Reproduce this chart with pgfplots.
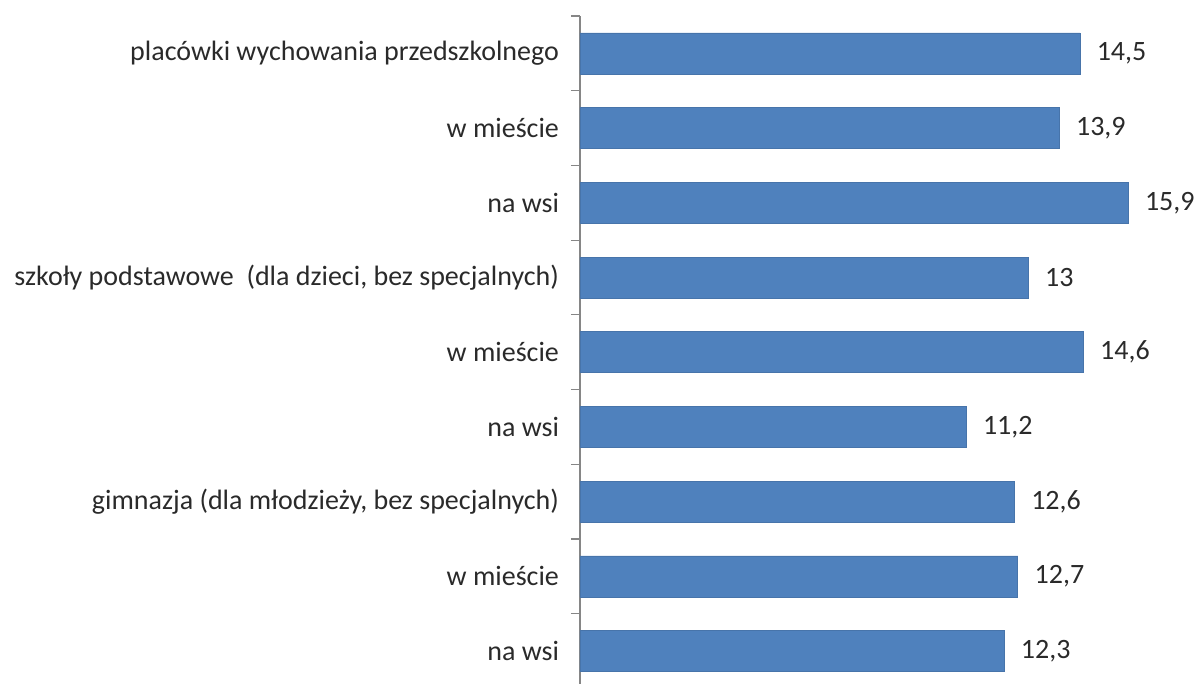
\documentclass[border=0pt]{standalone}
\usepackage{pgfplots}
\pgfplotsset{compat=1.18}
\usepackage{fontspec}
\setmainfont{Carlito}
\definecolor{barblue}{HTML}{4F81BD}
\definecolor{txt}{HTML}{2A2A2A}
\definecolor{axgray}{HTML}{868686}
\begin{document}
\begin{tikzpicture}[x=1pt,y=1pt]
\useasboundingbox (-290pt,0pt) rectangle (308.5pt,342pt);
\begin{axis}[
  name=ax, at={(0,0)}, anchor=south west,
  scale only axis,
  width=308.5pt, height=334pt,
  xbar, bar width=20.5pt,
  xmin=0, xmax=17.9,
  ymin=-0.5, ymax=8.44,
  y dir=reverse,
  hide x axis,
  axis y line*=left,
  y axis line style={draw=axgray, line width=0.6pt},
  ytick={0,...,8},
  yticklabels={placówki wychowania przedszkolnego, w mieście, na wsi, szkoły podstawowe\ \ (dla dzieci{,} bez specjalnych), w mieście, na wsi, gimnazja (dla młodzieży{,} bez specjalnych), w mieście, na wsi},
  major tick length=0pt,
  minor ytick={-0.5,0.5,...,7.5},
  minor tick length=4.5pt,
  tick align=outside,
  minor tick style={draw=axgray, line width=0.6pt},
  yticklabel style={font=\fontsize{14}{16}\selectfont, text=txt, anchor=east, xshift=-7pt},
  point meta=explicit symbolic,
  nodes near coords,
  nodes near coords style={font=\fontsize{14}{16}\selectfont, text=txt, anchor=west, xshift=5pt},
  clip=false,
]
\addplot[fill=barblue, draw=barblue!90!black, line width=0.3pt] coordinates {
  (14.5,0) [14,5]
  (13.9,1) [13,9]
  (15.9,2) [15,9]
  (13,3) [13]
  (14.6,4) [14,6]
  (11.2,5) [11,2]
  (12.6,6) [12,6]
  (12.7,7) [12,7]
  (12.3,8) [12,3]
};
\end{axis}
\end{tikzpicture}
\end{document}
